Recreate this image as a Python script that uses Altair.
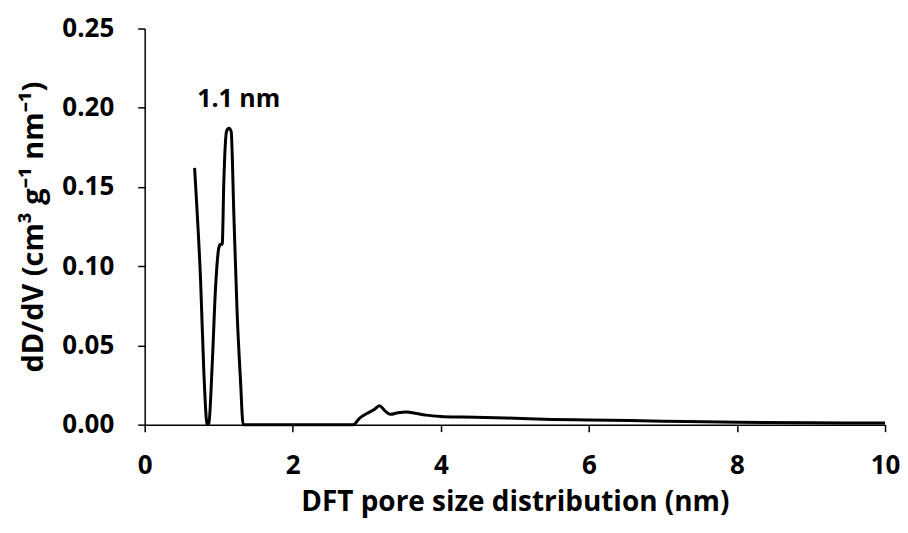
import altair as alt
import pandas as pd

pore_nm = [0.674, 0.710, 0.755, 0.800, 0.845, 0.867, 0.912, 0.957, 1.002, 1.024, 1.047,
           1.069, 1.105, 1.137, 1.168, 1.204, 1.249, 1.294, 1.330, 1.6, 2.0, 2.4, 2.82,
           2.90, 3.00, 3.10, 3.17, 3.25, 3.32, 3.42, 3.54, 3.65, 3.80, 4.0, 4.3, 4.6,
           5.0, 5.5, 6.0, 7.0, 8.0, 9.0, 10.0]
dDdV = [0.162, 0.133, 0.091, 0.032, 0.000, 0.001, 0.038, 0.0865, 0.1117, 0.1138, 0.1138,
        0.1537, 0.185, 0.187, 0.185, 0.133, 0.070, 0.028, 0.000, 0.0, 0.0, 0.0, 0.0,
        0.004, 0.007, 0.0095, 0.012, 0.0085, 0.0065, 0.0075, 0.008, 0.0072, 0.006, 0.0052, 0.0048, 0.0045,
        0.004, 0.0033, 0.003, 0.0022, 0.0015, 0.0012, 0.001]

label_text = ["1.1 nm"]
label_x = [1.27]
label_y = [0.2056]

df = pd.DataFrame({"x": pore_nm, "y": dDdV})
lab = pd.DataFrame({"x": label_x, "y": label_y, "t": label_text})

FONT = "Open Sans"

xs = alt.Scale(domain=[0, 10], nice=False)
ys = alt.Scale(domain=[0, 0.25], nice=False)

line = alt.Chart(df).mark_line(color="black", strokeWidth=3, interpolate="monotone").encode(
    x=alt.X("x:Q", scale=xs, title="DFT pore size distribution (nm)",
            axis=alt.Axis(values=[0, 2, 4, 6, 8, 10], format="d", labelPadding=21,
                          labelFlush=False, titlePadding=10, titleFontSize=28)),
    y=alt.Y("y:Q", scale=ys, title="dD/dV (cm³ g⁻¹ nm⁻¹)",
            axis=alt.Axis(values=[0, 0.05, 0.10, 0.15, 0.20, 0.25], format=".2f",
                          labelPadding=24, titlePadding=13, titleFontSize=29)),
)

text = alt.Chart(lab).mark_text(font=FONT, fontSize=25, fontWeight="bold", color="black",
                                baseline="middle").encode(
    x="x:Q", y="y:Q", text="t:N"
)

chart = (line + text).properties(
    width=742, height=397,
    padding={"top": 7, "left": 11, "right": 0, "bottom": 6},
).configure_view(
    stroke=None
).configure_axis(
    grid=False,
    domainColor="black",
    domainWidth=1.5,
    tickColor="black",
    tickWidth=1.5,
    tickSize=7,
    labelFont=FONT,
    labelFontSize=26,
    labelFontWeight="bold",
    labelColor="black",
    titleFont=FONT,
    titleFontWeight="bold",
    titleColor="black",
)

chart.save("out.html", embed_options={"renderer": "svg", "actions": False})
